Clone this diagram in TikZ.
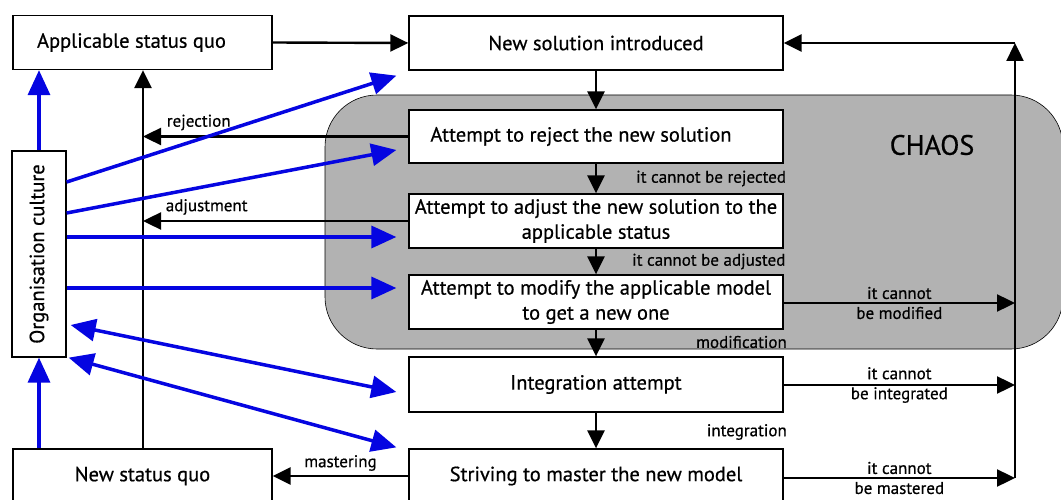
\documentclass[tikz,border=0pt]{standalone}
\usepackage{fontspec}
\setmainfont{PT Sans}[UprightFeatures={FakeBold=0.6}]
\usepackage{xcolor}
\usetikzlibrary{arrows.meta, positioning}
\definecolor{cultblue}{RGB}{5,5,225}
\definecolor{chaosgray}{RGB}{178,178,178}

\begin{document}
\begin{tikzpicture}[x=1pt, y=-1pt,
    box/.style={draw, line width=1.3pt, fill=white, minimum width=374pt, minimum height=54pt, align=center, inner sep=2pt, font=\fontsize{20.5}{25}\selectfont},
    lbl/.style={inner sep=1pt, align=center, font=\fontsize{17}{20}\selectfont},
    flow/.style={-{Triangle[length=18pt, width=17pt]}, line width=2.4pt},
    infl/.style={-{Triangle[length=25pt, width=22pt]}, line width=3.5pt, cultblue},
    both/.style={infl, {Triangle[length=25pt, width=22pt]}-{Triangle[length=25pt, width=22pt]}}]
    \useasboundingbox (0,0) rectangle (1061,500);
    % chaos region
    \draw[fill=chaosgray, line width=0.6pt, rounded corners=52pt] (325,95) rectangle (1063,349);
    \node[font=\fontsize{28}{32}\selectfont] (chaos) at (932,145) {CHAOS};
    % main column
    \node[box] (newsol) at (596,43) {New solution introduced};
    \node[box, minimum height=53pt] (reject) at (596,136.5) {\hspace*{-30pt}Attempt to reject the new solution};
    \node[box] (adjust) at (596,221) {Attempt to adjust the new solution to the\\applicable status};
    \node[box] (modify) at (596,302) {Attempt to modify the applicable model\\to get a new one};
    \node[box, minimum height=55pt] (integ) at (596,384.5) {Integration attempt};
    \node[box] (master) at (596,476) {Striving to master the new model};
    % left side
    \node[box, minimum width=259pt] (asq) at (142.5,42.5) {\hspace*{-22pt}Applicable status quo};
    \node[box, minimum width=259pt] (nsq) at (142.5,476) {New status quo};
    \node[box, rotate=90, minimum width=206pt, minimum height=54pt] (org) at (39,254) {Organisation culture};
    \coordinate (spine) at (143,449);
    \coordinate (rtop) at (1015,43);

    \draw[flow] (asq.east) -- (newsol.west);
    \draw[flow] (newsol) -- (reject);
    \draw[flow] (reject) -- (adjust) node[lbl, midway, right=38pt] {it cannot be rejected};
    \draw[flow] (adjust) -- (modify) node[lbl, midway, right=34pt] {it cannot be adjusted};
    \draw[flow] (modify) -- (integ);
    \draw[flow] (integ) -- (master);
    \node[lbl, anchor=east] (modlbl) at (788,342) {modification};
    \node[lbl, anchor=east] (intlbl) at (788,432) {integration};

    \draw[flow] (spine) -- (spine |- asq.south);
    \draw[flow] (reject.west) -- (reject.west -| spine) node[lbl, pos=0.79, above=4pt] {rejection};
    \draw[flow] (adjust.west) -- (adjust.west -| spine) node[lbl, pos=0.76, above=4pt] {adjustment};
    \draw[flow] (master.west) -- (nsq.east) node[lbl, midway, above=3pt] {mastering};

    \draw[flow] ([shift={(0,1)}]modify.east) -- ([shift={(0,1)}]modify.east -| rtop) node[lbl, midway] {it cannot\\be modified};
    \draw[flow] ([shift={(0,0.5)}]integ.east) -- ([shift={(0,0.5)}]integ.east -| rtop) node[lbl, midway] {it cannot\\be integrated};
    \draw[flow] ([shift={(0,2)}]master.east) -- ([shift={(0,2)}]master.east -| rtop) node[lbl, midway] {it cannot\\be mastered};
    \draw[flow] ([shift={(0,2)}]master.east -| rtop) -- (rtop);
    \draw[flow] (rtop) -- (newsol.east);

    % culture influence (org is turned: its east is the top, its south the right side)
    \draw[infl] (org.east) -- (org.east |- asq.south);
    \draw[infl] (nsq.north -| org.east) -- (org.west);
    \draw[infl] ([shift={(0,-72)}]org.south) -- ([shift={(-12,5)}]newsol.south west);
    \draw[infl] ([shift={(0,-41)}]org.south) -- ([shift={(-12,13.5)}]reject.west);
    \draw[infl] ([shift={(0,-17)}]org.south) -- ([shift={(-12,16)}]adjust.west);
    \draw[infl] ([shift={(0,34)}]org.south) -- ([shift={(-12,-14)}]modify.west);
    \draw[both] ([shift={(4,71)}]org.south) -- ([shift={(-12,7.5)}]integ.west);
    \draw[both] ([shift={(2,0)}]org.south west) -- ([shift={(-12,-1)}]master.north west);
\end{tikzpicture}
\end{document}
